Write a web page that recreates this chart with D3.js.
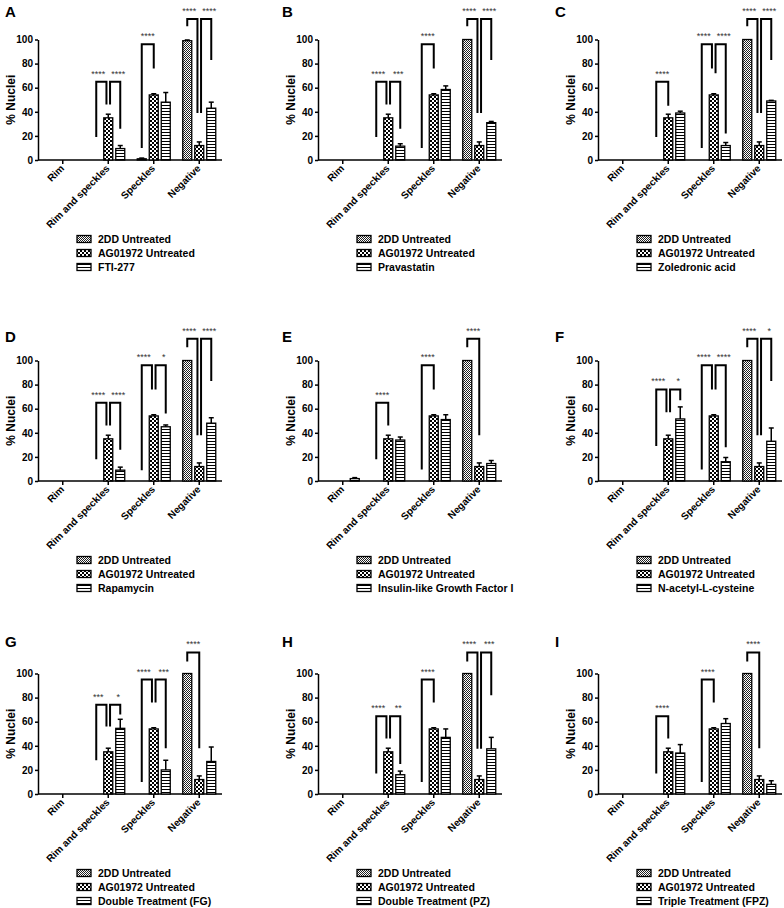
<!DOCTYPE html>
<html>
<head>
<meta charset="utf-8">
<script src="https://cdnjs.cloudflare.com/ajax/libs/d3/7.8.5/d3.min.js"></script>
<style>
body { margin: 0; background: #fff; }
svg text { font-family: "Liberation Sans", Arial, sans-serif; }
</style>
</head>
<body>
<div id="chart"></div>
<script>
// categories + shared controls
var categories = ["Rim", "Rim and speckles", "Speckles", "Negative"];
var yTicks = [0, 20, 40, 60, 80, 100];
var panelLetters = ["A", "B", "C", "D", "E", "F", "G", "H", "I"];
var treatments = ["FTI-277", "Pravastatin", "Zoledronic acid", "Rapamycin",
  "Insulin-like Growth Factor I", "N-acetyl-L-cysteine",
  "Double Treatment (FG)", "Double Treatment (PZ)", "Triple Treatment (FPZ)"];

var ctrl2DD = [0, 0, 0, 100];
var ctrl2DDErr = [0, 0, 0, 0];
var ctrl2DDPanelA = [0, 0, 1, 99];
var ctrl2DDPanelAErr = [0, 0, 0.6, 0.6];
var ag01972 = [0, 35, 54, 12];
var ag01972Err = [0, 3, 1, 3];

// treatment means / SEM, one row per panel
var treatMeans = [
  [0, 9.5, 48, 43],
  [0, 11.5, 58.5, 31],
  [0, 39, 12, 49],
  [0, 9, 45, 48],
  [2, 34, 51, 14.5],
  [0, 51.5, 16, 33],
  [0, 54.5, 20, 27],
  [0, 16, 47, 37.5],
  [0, 34, 58.5, 8]
];
var treatErrs = [
  [0, 2.5, 8, 5],
  [0, 2, 3, 1],
  [0, 1.5, 2.5, 0.5],
  [0, 2.5, 1.5, 4.5],
  [0.8, 2.5, 4, 2.5],
  [0, 10, 3.5, 11],
  [0, 7.5, 8, 12],
  [0, 3, 7, 9.5],
  [0, 7, 4, 3]
];

// significance brackets: [category, from series, to series, top, leg1 end, leg2 end, label]
var brackets = [
  [[1,0,1,65,19,46,"****"],[1,1,2,65,46,26,"****"],[2,0,1,96,10,76,"****"],[3,0,1,117,111,39,"****"],[3,1,2,117,39,83,"****"]],
  [[1,0,1,65,19,46,"****"],[1,1,2,65,46,26,"***"],[2,0,1,96,10,76,"****"],[3,0,1,117,111,39,"****"],[3,1,2,117,39,83,"****"]],
  [[1,0,1,65,19,45,"****"],[2,0,1,96,10,76,"****"],[2,1,2,96,72,22,"****"],[3,0,1,117,111,39,"****"],[3,1,2,117,39,83,"****"]],
  [[1,0,1,65,18,46,"****"],[1,1,2,65,46,26,"****"],[2,0,1,96,9,76,"****"],[2,1,2,96,76,56,"*"],[3,0,1,118,111,38,"****"],[3,1,2,118,38,83,"****"]],
  [[1,0,1,65,18,46,"****"],[2,0,1,96,9.5,76,"****"],[3,0,1,118,111,38,"****"]],
  [[1,0,1,76,29,57,"****"],[1,1,2,76,57,67,"*"],[2,0,1,96,9.5,76,"****"],[2,1,2,96,76,28,"****"],[3,0,1,118,111,38,"****"],[3,1,2,118,38,83,"*"]],
  [[1,0,1,74,28,56,"***"],[1,1,2,74,56,66,"*"],[2,0,1,95,10,76,"****"],[2,1,2,95,76,38,"***"],[3,0,1,117.5,110,38,"****"]],
  [[1,0,1,64.5,17,46,"****"],[1,1,2,64.5,46,25,"**"],[2,0,1,95,10,76,"****"],[3,0,1,117.5,110,37.5,"****"],[3,1,2,117.5,37.5,82,"***"]],
  [[1,0,1,64.5,17,46,"****"],[2,0,1,95,10,76,"****"],[3,0,1,117.5,110,38,"****"]]
];

var width = 784, height = 908;
var colX = [38, 318, 598], letterX = [5, 282, 555];
var rowY0 = [160, 481, 794], letterY = [17, 342, 647];
var plotW = 184, plotH = 120.5;
var barW = 9;

var svg = d3.select("#chart")
  .append("svg")
  .attr("width", width)
  .attr("height", height);

// fill patterns
var defs = svg.append("defs");
var p0 = defs.append("pattern").attr("id", "pat0").attr("patternUnits", "userSpaceOnUse")
  .attr("width", 2).attr("height", 2);
p0.append("rect").attr("width", 2).attr("height", 2).attr("fill", "#fff");
p0.append("rect").attr("width", 1).attr("height", 1).attr("fill", "#222");
p0.append("rect").attr("x", 1).attr("y", 1).attr("width", 1).attr("height", 1).attr("fill", "#222");

var p1 = defs.append("pattern").attr("id", "pat1").attr("patternUnits", "userSpaceOnUse")
  .attr("width", 4).attr("height", 4);
p1.append("rect").attr("width", 4).attr("height", 4).attr("fill", "#000");
p1.append("rect").attr("width", 2).attr("height", 2).attr("fill", "#fff");
p1.append("rect").attr("x", 2).attr("y", 2).attr("width", 2).attr("height", 2).attr("fill", "#fff");

var p2 = defs.append("pattern").attr("id", "pat2").attr("patternUnits", "userSpaceOnUse")
  .attr("width", 3).attr("height", 3);
p2.append("rect").attr("width", 3).attr("height", 3).attr("fill", "#fff");
p2.append("rect").attr("width", 3).attr("height", 1).attr("fill", "#000");

treatments.forEach(function(tName, i) {
  var col = i % 3, row = Math.floor(i / 3);
  var ax = colX[col], y0 = rowY0[row];

  var x = d3.scaleBand().domain(categories).range([ax + 2, ax + plotW]);
  var sub = d3.scalePoint().domain([0, 1, 2]).range([-12, 12]);
  var y = d3.scaleLinear().domain([0, 100]).range([y0, y0 - plotH]);

  var means = [i == 0 ? ctrl2DDPanelA : ctrl2DD, ag01972, treatMeans[i]];
  var errs = [i == 0 ? ctrl2DDPanelAErr : ctrl2DDErr, ag01972Err, treatErrs[i]];
  var names = ["2DD Untreated", "AG01972 Untreated", tName];

  var g = svg.append("g").attr("class", "panel");

  function cx(c, s) { return x(categories[c]) + x.bandwidth() / 2 + sub(s); }

  // panel letter
  g.append("text")
    .attr("x", letterX[col]).attr("y", letterY[row])
    .attr("font-size", "15px").attr("font-weight", "bold")
    .text(panelLetters[i]);

  // y axis
  var yAxis = g.append("g")
    .attr("transform", "translate(" + ax + ",0)")
    .call(d3.axisLeft(y).tickValues(yTicks).tickSize(3).tickSizeOuter(0).tickPadding(2));
  yAxis.select(".domain").attr("stroke-width", 1.5);
  yAxis.selectAll(".tick line").attr("stroke-width", 1.5);
  yAxis.selectAll("text").attr("font-size", "10px").attr("font-weight", "bold")
    .attr("font-family", "Liberation Sans, Arial, sans-serif");

  g.append("text")
    .attr("transform", "translate(" + (ax - 23) + "," + y(50) + ") rotate(-90)")
    .attr("text-anchor", "middle")
    .attr("font-size", "12px").attr("font-weight", "bold")
    .text("% Nuclei");

  // x axis
  g.append("line")
    .attr("x1", ax).attr("x2", ax + plotW).attr("y1", y0).attr("y2", y0)
    .attr("stroke", "#000").attr("stroke-width", 1.5);
  categories.forEach(function(c) {
    var tx = x(c) + x.bandwidth() / 2;
    g.append("line")
      .attr("x1", tx).attr("x2", tx).attr("y1", y0).attr("y2", y0 + 4)
      .attr("stroke", "#000").attr("stroke-width", 1.5);
    g.append("text")
      .attr("transform", "translate(" + (tx + 2) + "," + (y0 + 9) + ") rotate(-45)")
      .attr("text-anchor", "end")
      .attr("font-size", "10px").attr("font-weight", "bold")
      .text(c);
  });

  // bars and error bars
  means.forEach(function(vals, s) {
    vals.forEach(function(v, c) {
      if (v <= 0) return;
      var bx = cx(c, s);
      g.append("rect")
        .attr("x", bx - barW / 2).attr("y", y(v))
        .attr("width", barW).attr("height", y0 - y(v))
        .attr("fill", "url(#pat" + s + ")")
        .attr("stroke", "#000").attr("stroke-width", 1.3);
      var e = errs[s][c];
      if (e > 0) {
        g.append("line")
          .attr("x1", bx).attr("x2", bx).attr("y1", y(v)).attr("y2", y(v + e))
          .attr("stroke", "#000").attr("stroke-width", 1.5);
        g.append("line")
          .attr("x1", bx - 2.5).attr("x2", bx + 2.5).attr("y1", y(v + e)).attr("y2", y(v + e))
          .attr("stroke", "#000").attr("stroke-width", 1.5);
      }
    });
  });

  // brackets
  var bl = brackets[i];
  bl.forEach(function(b) {
    var c = b[0];
    var paired = bl.some(function(o) { return o !== b && o[0] == c; });
    var x1 = cx(c, b[1]), x2 = cx(c, b[2]);
    if (paired && b[1] == 1) x1 += 1.8;
    if (paired && b[2] == 1) x2 -= 1.8;
    // push paired labels apart a little so they don't run together
    var shift = !paired ? 0 : (b[1] == 0 ? -3 : 3);
    g.append("path")
      .attr("d", "M" + x1 + "," + y(b[4]) + "V" + y(b[3]) + "H" + x2 + "V" + y(b[5]))
      .attr("fill", "none").attr("stroke", "#000").attr("stroke-width", 2);
    g.append("text")
      .attr("x", (x1 + x2) / 2 + shift).attr("y", y(b[3]) - 5)
      .attr("text-anchor", "middle")
      .attr("font-size", "9px").attr("fill", "#333")
      .text(b[6]);
  });

  // legend
  names.forEach(function(n, s) {
    var ly = y0 + 79 + s * 14;
    g.append("rect")
      .attr("x", ax + 39).attr("y", ly - 3.5)
      .attr("width", 14).attr("height", 7)
      .attr("fill", "url(#pat" + s + ")")
      .attr("stroke", "#000").attr("stroke-width", 1.3);
    g.append("text")
      .attr("x", ax + 60).attr("y", ly + 4)
      .attr("font-size", "10.5px").attr("font-weight", "bold")
      .text(n);
  });
});
</script>
</body>
</html>
